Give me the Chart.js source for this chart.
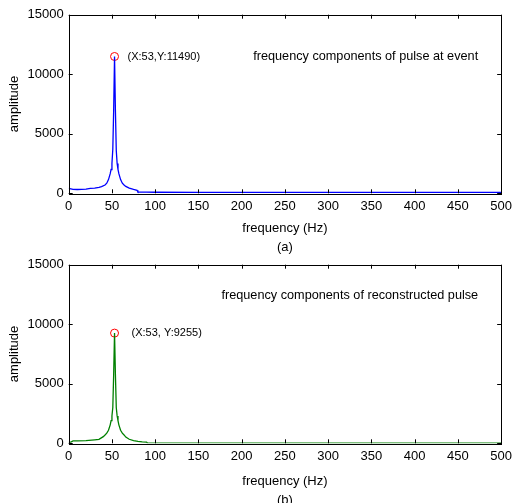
<!DOCTYPE html>
<html>
<head>
<meta charset="utf-8">
<script src="https://cdn.jsdelivr.net/npm/chart.js@4/dist/chart.umd.min.js"></script>
<style>
  html, body { margin: 0; padding: 0; background: #fff; }
  #page { position: relative; width: 517px; height: 503px; overflow: hidden; }
  .panel { position: absolute; left: 0; width: 517px; }
  #panelA { top: 0; height: 256px; }
  #panelB { top: 250px; height: 260px; }
</style>
</head>
<body>
<div id="page">
  <div class="panel" id="panelA"><canvas id="chartA"></canvas></div>
  <div class="panel" id="panelB"><canvas id="chartB"></canvas></div>
</div>
<script>
// spectrum of the pulse at the event (a)
const freqA = [0, 5, 10, 15, 20, 25, 30, 35, 38, 42, 44, 46, 48, 49, 50, 51, 52, 53, 54, 55, 56, 57, 58, 60, 62, 64, 66, 70, 75, 79, 80, 90, 100, 150, 200, 250, 300, 350, 400, 450, 500];
const ampA = [420, 330, 320, 330, 350, 420, 440, 500, 560, 700, 850, 1150, 1650, 2000, 2500, 3700, 7000, 11490, 7000, 3600, 2500, 2000, 1650, 1150, 850, 700, 580, 430, 320, 250, 110, 100, 90, 80, 80, 75, 75, 70, 70, 70, 70];

// spectrum of the reconstructed pulse (b)
const freqB = [0, 3, 5, 10, 20, 30, 35, 40, 42, 44, 46, 48, 49, 50, 51, 52, 53, 54, 55, 56, 57, 58, 60, 62, 64, 66, 70, 75, 80, 85, 90, 91, 100, 150, 200, 250, 300, 350, 400, 450, 500];
const ampB = [80, 120, 200, 210, 220, 290, 330, 560, 700, 850, 1100, 1550, 1900, 2300, 3000, 5800, 9255, 5800, 3000, 2300, 1900, 1550, 1100, 850, 700, 520, 340, 230, 160, 120, 100, 20, 15, 12, 12, 10, 10, 10, 10, 10, 10];

const peakA = { x: 53, y: 11490 };
const peakB = { x: 53, y: 9255 };

const xTicks = [0, 50, 100, 150, 200, 250, 300, 350, 400, 450, 500];
const yTicks = [0, 5000, 10000, 15000];

const FONT = 'Liberation Sans, Arial, sans-serif';

// MATLAB-style box with inward ticks plus the text annotations
const boxPlugin = {
  id: 'matBox',
  afterDatasetsDraw(chart, args, opts) {
    const { ctx, chartArea: a, scales: { x, y } } = chart;
    ctx.save();
    ctx.strokeStyle = '#000';
    ctx.lineWidth = 1;
    ctx.strokeRect(Math.round(a.left) + 0.5, Math.round(a.top) + 0.5,
      Math.round(a.right - a.left), Math.round(a.bottom - a.top));
    const t = 4;
    ctx.beginPath();
    xTicks.forEach(v => {
      const px = Math.round(x.getPixelForValue(v)) + 0.5;
      ctx.moveTo(px, a.bottom); ctx.lineTo(px, a.bottom - t);
      ctx.moveTo(px, a.top); ctx.lineTo(px, a.top + t);
    });
    yTicks.forEach(v => {
      const py = Math.round(y.getPixelForValue(v)) + 0.5;
      ctx.moveTo(a.left, py); ctx.lineTo(a.left + t, py);
      ctx.moveTo(a.right, py); ctx.lineTo(a.right - t, py);
    });
    ctx.stroke();

    ctx.fillStyle = '#000';
    ctx.textBaseline = 'middle';
    ctx.font = '11px ' + FONT;
    ctx.textAlign = 'left';
    ctx.fillText(opts.tip, x.getPixelForValue(opts.peak.x) + opts.tipDx, y.getPixelForValue(opts.peak.y));
    ctx.font = '12.7px ' + FONT;
    ctx.textAlign = 'right';
    ctx.fillText(opts.caption, a.right - 23, a.top + opts.captionDy);
    ctx.restore();
  }
};

function makeChart(id, freqs, amps, peak, color, cfg) {
  new Chart(document.getElementById(id), {
    type: 'scatter',
    data: {
      datasets: [{
        data: freqs.map((f, i) => ({ x: f, y: amps[i] })),
        showLine: true,
        borderColor: color,
        borderWidth: 1.3,
        pointRadius: 0,
        tension: 0
      }, {
        data: [peak],
        showLine: false,
        pointStyle: 'circle',
        pointRadius: 4,
        borderWidth: 1,
        borderColor: '#ff0000',
        backgroundColor: 'rgba(0,0,0,0)'
      }]
    },
    options: {
      responsive: true,
      maintainAspectRatio: false,
      animation: false,
      layout: { padding: { top: 14.7, right: 12.7, left: 0, bottom: 0 } },
      plugins: {
        legend: { display: false },
        tooltip: { enabled: false },
        matBox: cfg
      },
      scales: {
        x: {
          type: 'linear', min: 0, max: 500,
          afterBuildTicks: s => { s.ticks = xTicks.map(v => ({ value: v })); },
          afterFit: s => { s.height = cfg.xHeight; },
          grid: { display: false, drawTicks: false },
          border: { display: false },
          ticks: { padding: 5, color: '#000', font: { family: FONT, size: 13 }, maxRotation: 0,
                   callback: v => String(v) },
          title: {
            display: true,
            text: ['frequency (Hz)', cfg.panel],
            color: '#000',
            font: { family: FONT, size: 13, lineHeight: 1.46 },
            padding: { top: 0, bottom: cfg.titlePad }
          }
        },
        y: {
          min: 0, max: 15000,
          afterBuildTicks: s => { s.ticks = yTicks.map(v => ({ value: v })); },
          afterFit: s => { s.width = 68.7; },
          grid: { display: false, drawTicks: false },
          border: { display: false },
          ticks: { padding: 5, color: '#000', font: { family: FONT, size: 13 },
                   callback: v => String(v) },
          title: {
            display: true,
            text: 'amplitude',
            color: '#000',
            font: { family: FONT, size: 13 },
            padding: { top: 7, bottom: 0 }
          }
        }
      }
    },
    plugins: [boxPlugin]
  });
}

makeChart('chartA', freqA, ampA, peakA, '#0000ff', {
  panel: '(a)', xHeight: 62.7, titlePad: -1,
  tip: '(X:53,Y:11490)', tipDx: 13, peak: peakA,
  caption: 'frequency components of pulse at event', captionDy: 41.3
});

makeChart('chartB', freqB, ampB, peakB, '#008000', {
  panel: '(b)', xHeight: 66.7, titlePad: 0.5,
  tip: '(X:53, Y:9255)', tipDx: 17, peak: peakB,
  caption: 'frequency components of reconstructed pulse', captionDy: 30.3
});
</script>
</body>
</html>
